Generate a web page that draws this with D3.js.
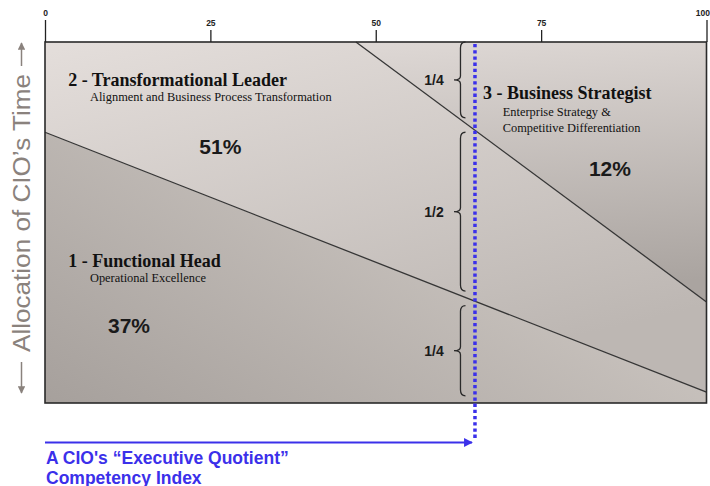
<!DOCTYPE html>
<html>
<head>
<meta charset="utf-8">
<script src="https://cdn.jsdelivr.net/npm/d3@7"></script>
<style>
  html, body { margin: 0; padding: 0; background: #ffffff; }
  svg { display: block; }
</style>
</head>
<body>
<svg id="chart" width="710" height="486"></svg>
<script>
// ---------------- data ----------------
const xTicks = [0, 25, 50, 75, 100];
const roles = ["1 - Functional Head", "2 - Transformational Leader", "3 - Business Strategist"];
const roleSubtitles = [
  ["Operational Excellence"],
  ["Alignment and Business Process Transformation"],
  ["Enterprise Strategy &", "Competitive Differentiation"]
];
const shares = [37, 51, 12];
// boundary lines between roles: [competency index, % of time]
const lowerBoundary = [[0, 75], [100, 3]];
const upperBoundary = [[47, 100], [100, 28]];
const eqIndex = 65;
const braceLabels = ["1/4", "1/2", "1/4"];
const braceRanges = [[100, 79], [75, 31], [27, 2]];
const yAxisLabel = "Allocation of CIO\u2019s Time";
const xAxisLabel = ["A CIO's \u201CExecutive Quotient\u201D", "Competency Index"];

// ---------------- layout ----------------
const svg = d3.select("#chart");
const plot = { left: 45, right: 706.5, top: 42, bottom: 403 };
const x = d3.scaleLinear().domain([0, 100]).range([plot.left, plot.right]);
const y = d3.scaleLinear().domain([0, 100]).range([plot.bottom, plot.top]);

const blue = "#3b30ea";
const serif = "'Liberation Serif', 'Times New Roman', serif";
const sans = "'Liberation Sans', Arial, sans-serif";

// gradients
const defs = svg.append("defs");
function grad(id, x1, y1, x2, y2, c1, c2) {
  const g = defs.append("linearGradient").attr("id", id)
    .attr("x1", x1).attr("y1", y1).attr("x2", x2).attr("y2", y2);
  g.append("stop").attr("offset", 0).attr("stop-color", c1);
  g.append("stop").attr("offset", 1).attr("stop-color", c2);
}
grad("g1", 0, 1, 1, 0.3, "#a6a09c", "#d4cec9");
grad("g2", 0, 0, 0.45, 1, "#e4dedb", "#bdb7b3");
grad("g3", 0, 0, 0.1, 1, "#ded8d5", "#aaa4a0");

// regions
const regions = [
  [[0, 0], lowerBoundary[0], lowerBoundary[1], [100, 0]],
  [lowerBoundary[0], [0, 100], upperBoundary[0], upperBoundary[1], lowerBoundary[1]],
  [upperBoundary[0], [100, 100], upperBoundary[1]]
];
const line = d3.line().x(d => x(d[0])).y(d => y(d[1]));
svg.append("g").selectAll("path").data(regions).join("path")
  .attr("d", d => line(d) + "Z")
  .attr("fill", (d, i) => `url(#g${i + 1})`)
  .attr("stroke", "none");

// boundary lines
svg.append("g").selectAll("path").data([lowerBoundary, upperBoundary]).join("path")
  .attr("d", line)
  .attr("fill", "none")
  .attr("stroke", "#353535")
  .attr("stroke-width", 1.3);

// frame
svg.append("rect")
  .attr("x", x(0)).attr("y", y(100))
  .attr("width", x(100) - x(0)).attr("height", y(0) - y(100))
  .attr("fill", "none").attr("stroke", "#2a2a2a").attr("stroke-width", 1.6);

// top axis
const axis = d3.axisTop(x).tickValues(xTicks).tickSize(12).tickPadding(3).tickFormat(d3.format("d"));
const ax = svg.append("g").attr("transform", `translate(0,${y(100)})`).call(axis);
ax.select(".domain").remove();
ax.selectAll(".tick line").attr("stroke", "#222").attr("stroke-width", 1.3)
  .attr("y2", d => (d === 0 || d === 100) ? -22 : -12);
ax.selectAll(".tick text")
  .attr("y", d => (d === 0 || d === 100) ? -26 : -16)
  .attr("x", d => d === 100 ? 3 : 0)
  .attr("text-anchor", d => d === 100 ? "end" : "middle")
  .attr("font-family", "'Liberation Sans Narrow', 'Arial Narrow', " + sans)
  .attr("font-weight", "bold").attr("font-size", 8.5).attr("fill", "#222");

// role titles, subtitles, shares
const titlePos = [[3.5, 37.8], [3.5, 87.8], [66.2, 84.1]];
const subPos = [[6.8, 33.6], [6.8, 83.7], [69.2, 79.5]];
const sharePos = [[12.7, 19.4], [26.5, 69], [85.4, 62.9]];
const lab = svg.append("g");
roles.forEach((r, i) => {
  lab.append("text").attr("x", x(titlePos[i][0])).attr("y", y(titlePos[i][1]))
    .attr("font-family", serif).attr("font-weight", "bold").attr("font-size", 18)
    .attr("fill", "#111").text(r);
  roleSubtitles[i].forEach((s, j) => {
    lab.append("text").attr("x", x(subPos[i][0])).attr("y", y(subPos[i][1]) + j * 15.7)
      .attr("font-family", serif).attr("font-size", 12.4).attr("fill", "#111").text(s);
  });
  lab.append("text").attr("x", x(sharePos[i][0])).attr("y", y(sharePos[i][1]))
    .attr("text-anchor", "middle")
    .attr("font-family", sans).attr("font-weight", "bold").attr("font-size", 21)
    .attr("fill", "#1a1a1a").text(shares[i] + "%");
});

// braces
const xe = x(eqIndex) - 9.5, xs = x(eqIndex) - 14.5, xt = x(eqIndex) - 21, r = 6;
function bracePath(y0, y1) {
  const ym = (y0 + y1) / 2;
  return `M${xe},${y0} Q${xs},${y0} ${xs},${y0 + r} L${xs},${ym - 4} Q${xs},${ym} ${xt},${ym}` +
         ` Q${xs},${ym} ${xs},${ym + 4} L${xs},${y1 - r} Q${xs},${y1} ${xe},${y1}`;
}
const br = svg.append("g");
braceRanges.forEach((b, i) => {
  const y0 = y(b[0]), y1 = y(b[1]);
  br.append("path").attr("d", bracePath(y0, y1))
    .attr("fill", "none").attr("stroke", "#2a2a2a").attr("stroke-width", 1.3);
  br.append("text").attr("x", xt - 20).attr("y", (y0 + y1) / 2 + 5)
    .attr("text-anchor", "middle")
    .attr("font-family", sans).attr("font-weight", "bold").attr("font-size", 14)
    .attr("fill", "#1a1a1a").text(braceLabels[i]);
});

// executive quotient marker (dotted vertical)
const arrowY = 442.5;
svg.append("line")
  .attr("x1", x(eqIndex)).attr("x2", x(eqIndex))
  .attr("y1", y(100) + 2).attr("y2", arrowY - 2)
  .attr("stroke", blue).attr("stroke-width", 3.5)
  .attr("stroke-dasharray", "3.3,2.9");

// bottom arrow
defs.append("marker").attr("id", "arrowBlue")
  .attr("viewBox", "0 0 10 10").attr("refX", 9).attr("refY", 5)
  .attr("markerWidth", 5).attr("markerHeight", 4).attr("orient", "auto")
  .attr("markerUnits", "strokeWidth")
  .append("path").attr("d", "M0,0 L10,5 L0,10 Z").attr("fill", blue);
svg.append("line")
  .attr("x1", x(0)).attr("x2", x(eqIndex) - 3)
  .attr("y1", arrowY).attr("y2", arrowY)
  .attr("stroke", blue).attr("stroke-width", 2.2)
  .attr("marker-end", "url(#arrowBlue)");
xAxisLabel.forEach((t, i) => {
  svg.append("text").attr("x", x(0) + 1).attr("y", 463.5 + i * 20)
    .attr("font-family", sans).attr("font-weight", "bold").attr("font-size", 17.5)
    .attr("fill", blue).text(t);
});

// left label with arrows
const grey = "#8a827d";
defs.append("marker").attr("id", "arrowGrey")
  .attr("viewBox", "0 0 10 10").attr("refX", 9).attr("refY", 5)
  .attr("markerWidth", 5).attr("markerHeight", 5).attr("orient", "auto")
  .attr("markerUnits", "strokeWidth")
  .append("path").attr("d", "M0,0 L10,5 L0,10 Z").attr("fill", grey);
const lx = 21.5;
svg.append("line").attr("x1", lx).attr("x2", lx).attr("y1", 66).attr("y2", 43)
  .attr("stroke", grey).attr("stroke-width", 1.5).attr("marker-end", "url(#arrowGrey)");
svg.append("line").attr("x1", lx).attr("x2", lx).attr("y1", 362).attr("y2", 393)
  .attr("stroke", grey).attr("stroke-width", 1.5).attr("marker-end", "url(#arrowGrey)");
svg.append("text")
  .attr("transform", `translate(${lx + 8},${(72 + 354) / 2}) rotate(-90)`)
  .attr("text-anchor", "middle")
  .attr("font-family", sans).attr("font-size", 23)
  .attr("textLength", 278).attr("lengthAdjust", "spacingAndGlyphs")
  .attr("fill", grey).text(yAxisLabel);
</script>
</body>
</html>
